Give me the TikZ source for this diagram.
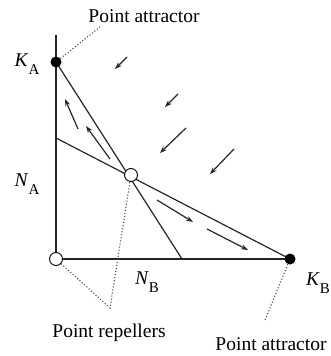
\documentclass[tikz,border=0pt]{standalone}
\usepackage{fontspec}
\setmainfont{Liberation Serif}
\usetikzlibrary{arrows.meta}
\newcommand{\lbl}[2]{\textit{#1}\raisebox{-0.4em}{\fontsize{15}{16}\selectfont #2}}

\begin{document}
\begin{tikzpicture}[
        x=1pt, y=-1pt,
        font=\fontsize{19.5}{22}\selectfont,
        axis/.style={line width=1.6pt, black!85},
        iso/.style={line width=1.2pt, black!85},
        ar/.style={-{Stealth[length=7pt, width=5pt]}, line width=1.2pt, black!85},
        tag/.style={dotted, line width=1.1pt, black!70},
        opendot/.style={circle, draw, fill=white, line width=0.9pt, minimum size=13pt, inner sep=0pt},
        fulldot/.style={circle, fill=black, minimum size=11pt, inner sep=0pt}
    ]
        \useasboundingbox (0,0) rectangle (331,356);

        % axes and isoclines
        \coordinate (top) at (56,35);
        \coordinate (iA)  at (56,138);
        \coordinate (iB)  at (182,259);
        \draw[axis] (top) -- (56,259) -- (290,259);
        \draw[iso] (56,62) -- (iB);
        \draw[iso] (iA) -- (290,259);

        % equilibria
        \node[opendot] (O)  at (56,259)  {};
        \node[opendot] (eq) at (131,175) {};
        \node[fulldot] (KA) at (56,62)   {};
        \node[fulldot] (KB) at (290,259) {};

        % axis labels
        \node (kA) at (27,64)  {\lbl{K}{A}};
        \node (nA) at (27,184) {\lbl{N}{A}};
        \node (nB) at (147,282) {\lbl{N}{B}};
        \node (kB) at (318,283) {\lbl{K}{B}};

        % trajectories
        \foreach \xa/\ya/\xb/\yb in {78/129/65/99, 110/159/86/126, 157/200/193/222, 207/229/248/250,
                           127/57/115/69, 178/94/165/107, 186/128/160/153, 234/149/210/174}{
            \draw[ar] (\xa,\ya) -- (\xb,\yb);
        }

        % annotations
        \node (att1) at (144,16)  {Point attractor};
        \node (rep)  at (109,333) {Point repellers};
        \node (att2) at (271,344) {Point attractor};
        \coordinate (v) at (110,308);
        \draw[tag] (KA) -- (100,27);
        \draw[tag] (O) -- (v) -- (eq);
        \draw[tag] (KB) -- (265,320);
    \end{tikzpicture}
\end{document}
